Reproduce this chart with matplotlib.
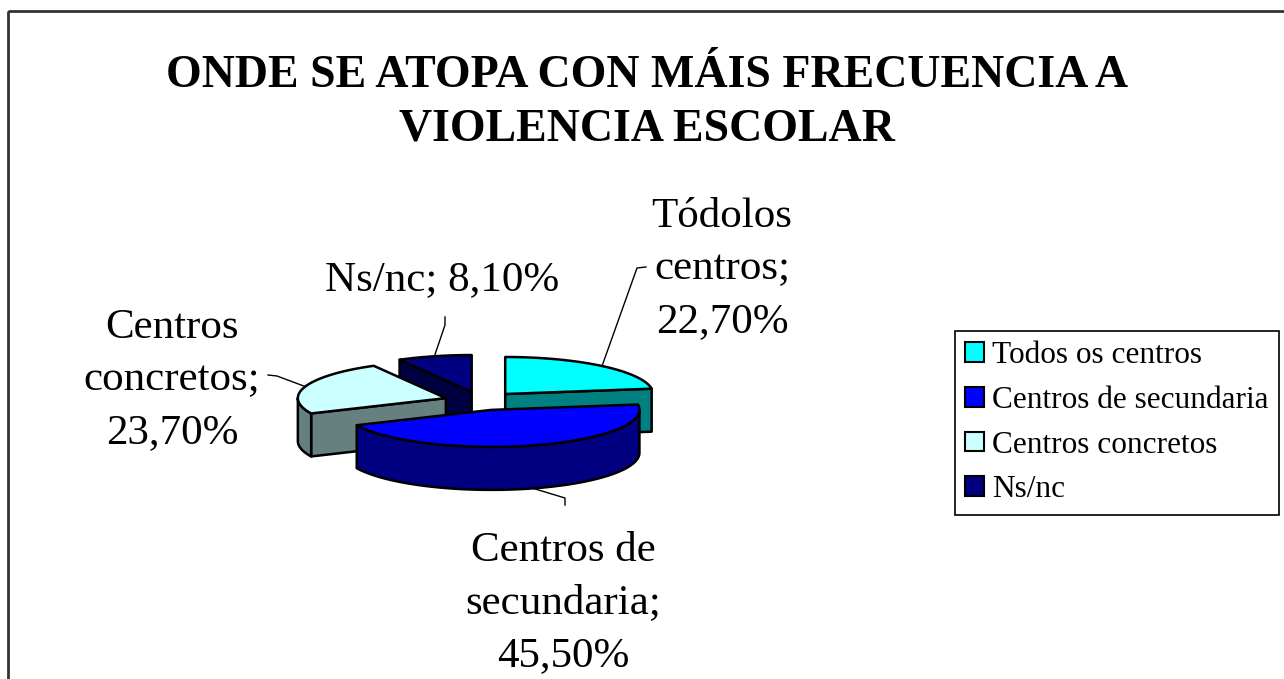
import numpy as np
import matplotlib
matplotlib.use("Agg")
import matplotlib.pyplot as plt
from matplotlib.patches import Polygon, Rectangle, Patch

# ---- data ----
legend_names = ["Todos os centros", "Centros de secundaria", "Centros concretos", "Ns/nc"]
label_names = ["Tódolos\ncentros", "Centros de\nsecundaria", "Centros\nconcretos", "Ns/nc"]
label_seps = [";\n", ";\n", ";\n", "; "]
values = [22.7, 45.5, 23.7, 8.1]
top_colors = ["#00FFFF", "#0000FF", "#CCFFFF", "#000080"]
side_colors = ["#008080", "#000080", "#668080", "#000040"]
title = "ONDE SE ATOPA CON MÁIS FRECUENCIA A\nVIOLENCIA ESCOLAR"

# ---- layout (pixel space) ----
W, H = 1284, 679
CX, CY = 481, 401
RX, RY = 148, 37
DEPTH = 43
EXPLODE = 0.25
SERIF = ["Liberation Serif", "DejaVu Serif"]

label_pos = [(722, 269), (563, 603), (172, 380), (442, 280)]
leader_pts = [[(646, 267), (637, 268)], [(565, 505), (565, 498)],
              [(268, 375), (277, 376)], [(445, 317), (445, 325)]]

fig = plt.figure(figsize=(W / 100, H / 100), dpi=100)
ax = fig.add_axes([0, 0, 1, 1])
ax.set_xlim(0, W)
ax.set_ylim(H, 0)
ax.axis("off")

# outer chart border
ax.add_patch(Rectangle((8, 11), W + 20, H + 20, fill=False, edgecolor="#333333", lw=2))

ax.text(647, 103, title, ha="center", va="center", fontsize=33, fontweight="bold",
        family=SERIF, linespacing=1.35)

# angles: start at 12 o'clock, clockwise
vals = np.array(values, dtype=float)
fr = vals / vals.sum()
cum = np.concatenate([[0], np.cumsum(fr)])
a_hi = 90 - cum[:-1] * 360
a_lo = 90 - cum[1:] * 360
mids = (a_hi + a_lo) / 2


def rim(tx, ty, t, drop=0.0):
    r = np.radians(t)
    return np.column_stack([tx + RX * np.cos(r), ty - RY * np.sin(r) + drop])


EDGE = dict(edgecolor="black", lw=1.8, joinstyle="round")
order = np.argsort(-np.sin(np.radians(mids)))
tips = {}
for i in order:
    lo, hi, mid = a_lo[i], a_hi[i], mids[i]
    tx = CX + EXPLODE * RX * np.cos(np.radians(mid))
    ty = CY - EXPLODE * RY * np.sin(np.radians(mid))
    tips[i] = (tx, ty)
    # radial walls
    for a, vis in ((lo, np.cos(np.radians(lo)) > 1e-6), (hi, np.cos(np.radians(hi)) < -1e-6)):
        if vis:
            p = rim(tx, ty, np.array([a]))[0]
            poly = [(tx, ty), tuple(p), (p[0], p[1] + DEPTH), (tx, ty + DEPTH)]
            ax.add_patch(Polygon(poly, closed=True, facecolor=side_colors[i], **EDGE))
    # curved front wall
    for k in range(-2, 3):
        l2 = max(lo, -180 + 360 * k)
        h2 = min(hi, 360 * k)
        if h2 > l2:
            t = np.linspace(l2, h2, 120)
            up = rim(tx, ty, t)
            dn = rim(tx, ty, t[::-1], DEPTH)
            ax.add_patch(Polygon(np.vstack([up, dn]), closed=True,
                                 facecolor=side_colors[i], **EDGE))
    # top face
    t = np.linspace(lo, hi, 200)
    pts = np.vstack([[tx, ty], rim(tx, ty, t)])
    ax.add_patch(Polygon(pts, closed=True, facecolor=top_colors[i], **EDGE))

# data labels + leader lines
for i in range(len(values)):
    tx, ty = tips[i]
    mid = mids[i]
    drop = DEPTH if np.sin(np.radians(mid)) < 0 else 0
    end = rim(tx, ty, np.array([mid]), drop)[0]
    pts = leader_pts[i] + [tuple(end)]
    xs, ys = zip(*pts)
    ax.plot(xs, ys, color="black", lw=1)
    pct = f"{values[i]:.2f}%".replace(".", ",")
    ax.text(*label_pos[i], label_names[i] + label_seps[i] + pct, ha="center", va="center",
            fontsize=31, family=SERIF, linespacing=1.48)

handles = [Patch(facecolor=c, edgecolor="black", lw=1.5) for c in top_colors]
leg = ax.legend(handles, legend_names, loc="upper left",
                bbox_to_anchor=(955 / W, 1 - 331 / H), bbox_transform=fig.transFigure,
                prop={"family": SERIF, "size": 22.5}, frameon=True, fancybox=False,
                edgecolor="black", framealpha=1, handlelength=0.6, handleheight=0.6,
                handletextpad=0.27, labelspacing=0.5, borderpad=0.33, borderaxespad=0)
leg.get_frame().set_linewidth(1.2)

fig.savefig("out.png", dpi=100)
